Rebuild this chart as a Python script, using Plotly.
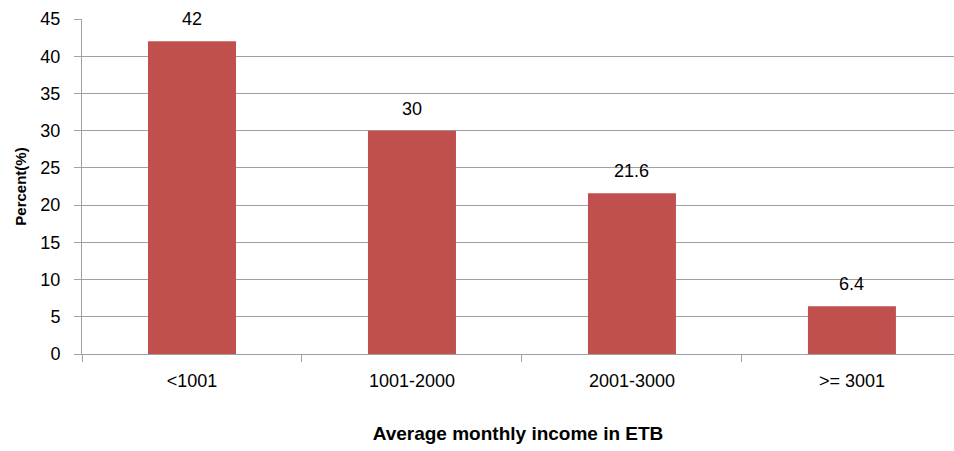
import plotly.graph_objects as go

categories = ['<1001', '1001-2000', '2001-3000', '>= 3001']
percent = [42, 30, 21.6, 6.4]
labels = ['42', '30', '21.6', '6.4']

FONT = 'Liberation Sans, Arial'
GREY = '#a0a0a0'

fig = go.Figure()
fig.add_trace(go.Bar(
    x=categories,
    y=percent,
    marker=dict(color='#C0504D', line=dict(width=0)),
))

# value labels above the bars (a bit higher than plotly's default outside text)
for c, v, t in zip(categories, percent, labels):
    fig.add_annotation(x=c, y=v, text=t, showarrow=False, yanchor='bottom',
                       yshift=10, font=dict(family=FONT, size=18, color='black'))

fig.update_layout(
    width=954,
    height=451,
    margin=dict(l=82, r=0, t=19, b=97),
    plot_bgcolor='white',
    paper_bgcolor='white',
    bargap=0.6,
    showlegend=False,
    font=dict(family=FONT, size=18, color='black'),
)

fig.update_yaxes(
    range=[0, 45],
    dtick=5,
    automargin=False,
    showgrid=True,
    gridcolor=GREY,
    gridwidth=1,
    showline=True,
    linecolor=GREY,
    ticks='outside',
    ticklen=7,
    tickcolor=GREY,
    ticklabelstandoff=10,
    zeroline=False,
    tickfont=dict(family=FONT, size=18),
    title=dict(text='<b>Percent(%)</b>', font=dict(family=FONT, size=15), standoff=10),
)

fig.update_xaxes(
    range=[-0.5, 3.464],
    automargin=False,
    showline=True,
    linecolor=GREY,
    ticks='outside',
    tickson='boundaries',
    ticklen=7,
    tickcolor=GREY,
    ticklabelstandoff=10,
    tickfont=dict(family=FONT, size=18),
    title=dict(text='<b>Average monthly income in ETB</b>', font=dict(family=FONT, size=19), standoff=37),
)

# drop the page's default body margin so the figure sits at the window origin
fig.write_html("out.html", config={'displayModeBar': False},
               post_script="document.body.style.margin='0';")
